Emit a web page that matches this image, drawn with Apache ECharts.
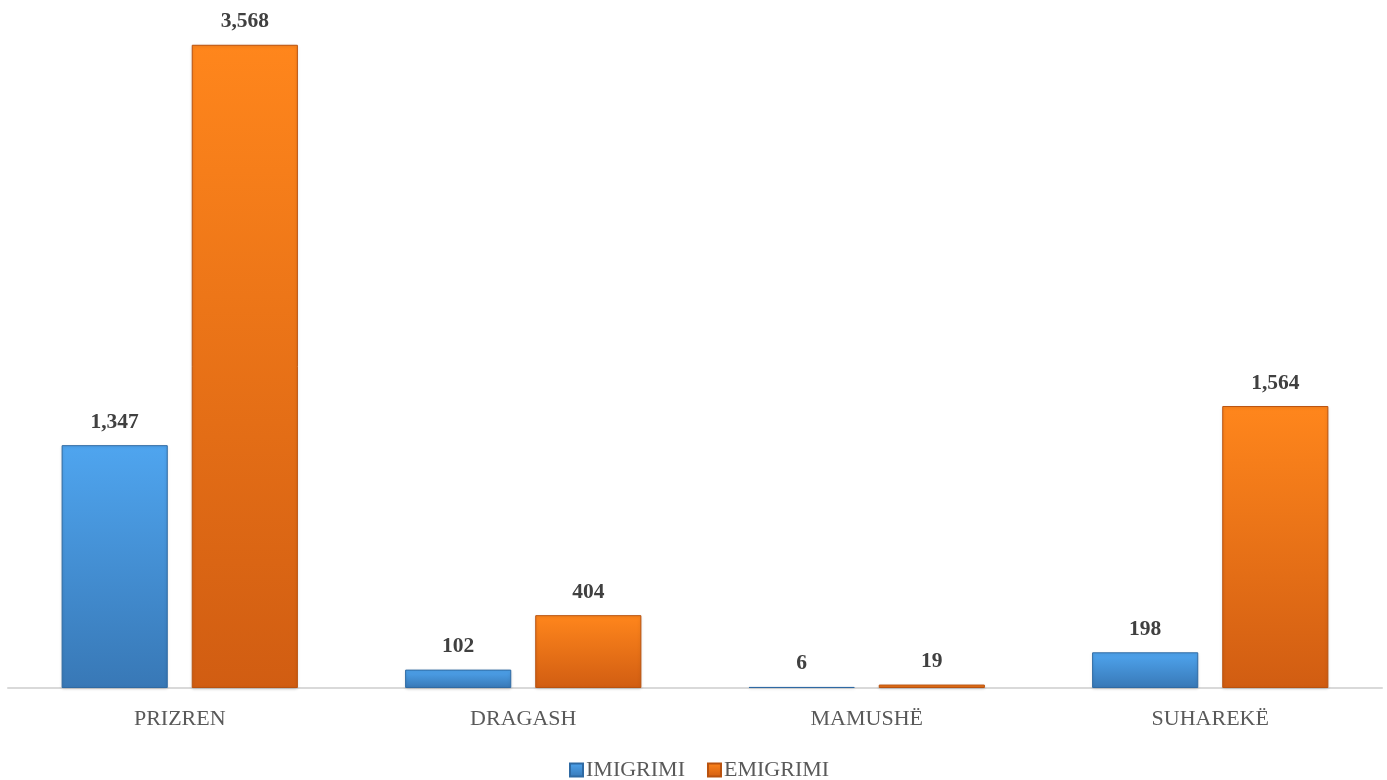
<!DOCTYPE html>
<html><head><meta charset="utf-8">
<script src="https://cdn.jsdelivr.net/npm/echarts@6/dist/echarts.min.js"></script>
<style>html,body{margin:0;padding:0;background:#fff}#c{width:1387px;height:780px}</style>
</head><body><div id="c"></div>
<script>
const categories = ['PRIZREN', 'DRAGASH', 'MAMUSHË', 'SUHAREKË'];
const imigrimi = [1347, 102, 6, 198];
const emigrimi = [3568, 404, 19, 1564];
const seriesNames = ['IMIGRIMI', 'EMIGRIMI'];

const FONT = '"Liberation Serif", "DejaVu Serif", serif';
function grad(top, bottom) {
  return new echarts.graphic.LinearGradient(0, 0, 0, 1, [
    {offset: 0, color: top}, {offset: 1, color: bottom}
  ]);
}
const chart = echarts.init(document.getElementById('c'));
const labelCfg = {
  show: true, position: 'top', distance: 12,
  fontFamily: FONT, fontWeight: 'bold', fontSize: 21.5, color: '#404040',
  formatter: p => p.value.toLocaleString('en-US')
};
chart.setOption({
  animation: false,
  grid: {left: 8, right: 5, top: 39, bottom: 92, containLabel: false},
  legend: {
    top: 754, left: 564,
    itemWidth: 13, itemHeight: 13, itemGap: 22,
    icon: 'rect',
    textStyle: {fontFamily: FONT, fontSize: 22, color: '#595959', padding: [0, 0, 0, -2]},
    data: seriesNames
  },
  xAxis: {
    type: 'category', data: categories,
    axisLine: {lineStyle: {color: '#d9d9d9', width: 2}},
    axisTick: {show: false},
    axisLabel: {fontFamily: FONT, fontSize: 22, color: '#595959', margin: 20}
  },
  yAxis: {
    type: 'value', min: 0, max: 3600, show: false,
    splitLine: {show: false}
  },
  series: [
    {
      name: seriesNames[0], type: 'bar', data: imigrimi,
      barWidth: '30.9%', barGap: '22.6%',
      itemStyle: {color: grad('#4fa5ef', '#3878b6'), borderColor: '#2f6aa3', borderWidth: 1,
        shadowColor: 'rgba(0,0,0,0.15)', shadowBlur: 3, shadowOffsetY: 1},
      label: labelCfg
    },
    {
      name: seriesNames[1], type: 'bar', data: emigrimi,
      barWidth: '30.9%', barGap: '22.6%',
      itemStyle: {color: grad('#ff861c', '#d15d12'), borderColor: '#b9520f', borderWidth: 1,
        shadowColor: 'rgba(0,0,0,0.15)', shadowBlur: 3, shadowOffsetY: 1},
      label: labelCfg
    }
  ]
});
</script></body></html>
